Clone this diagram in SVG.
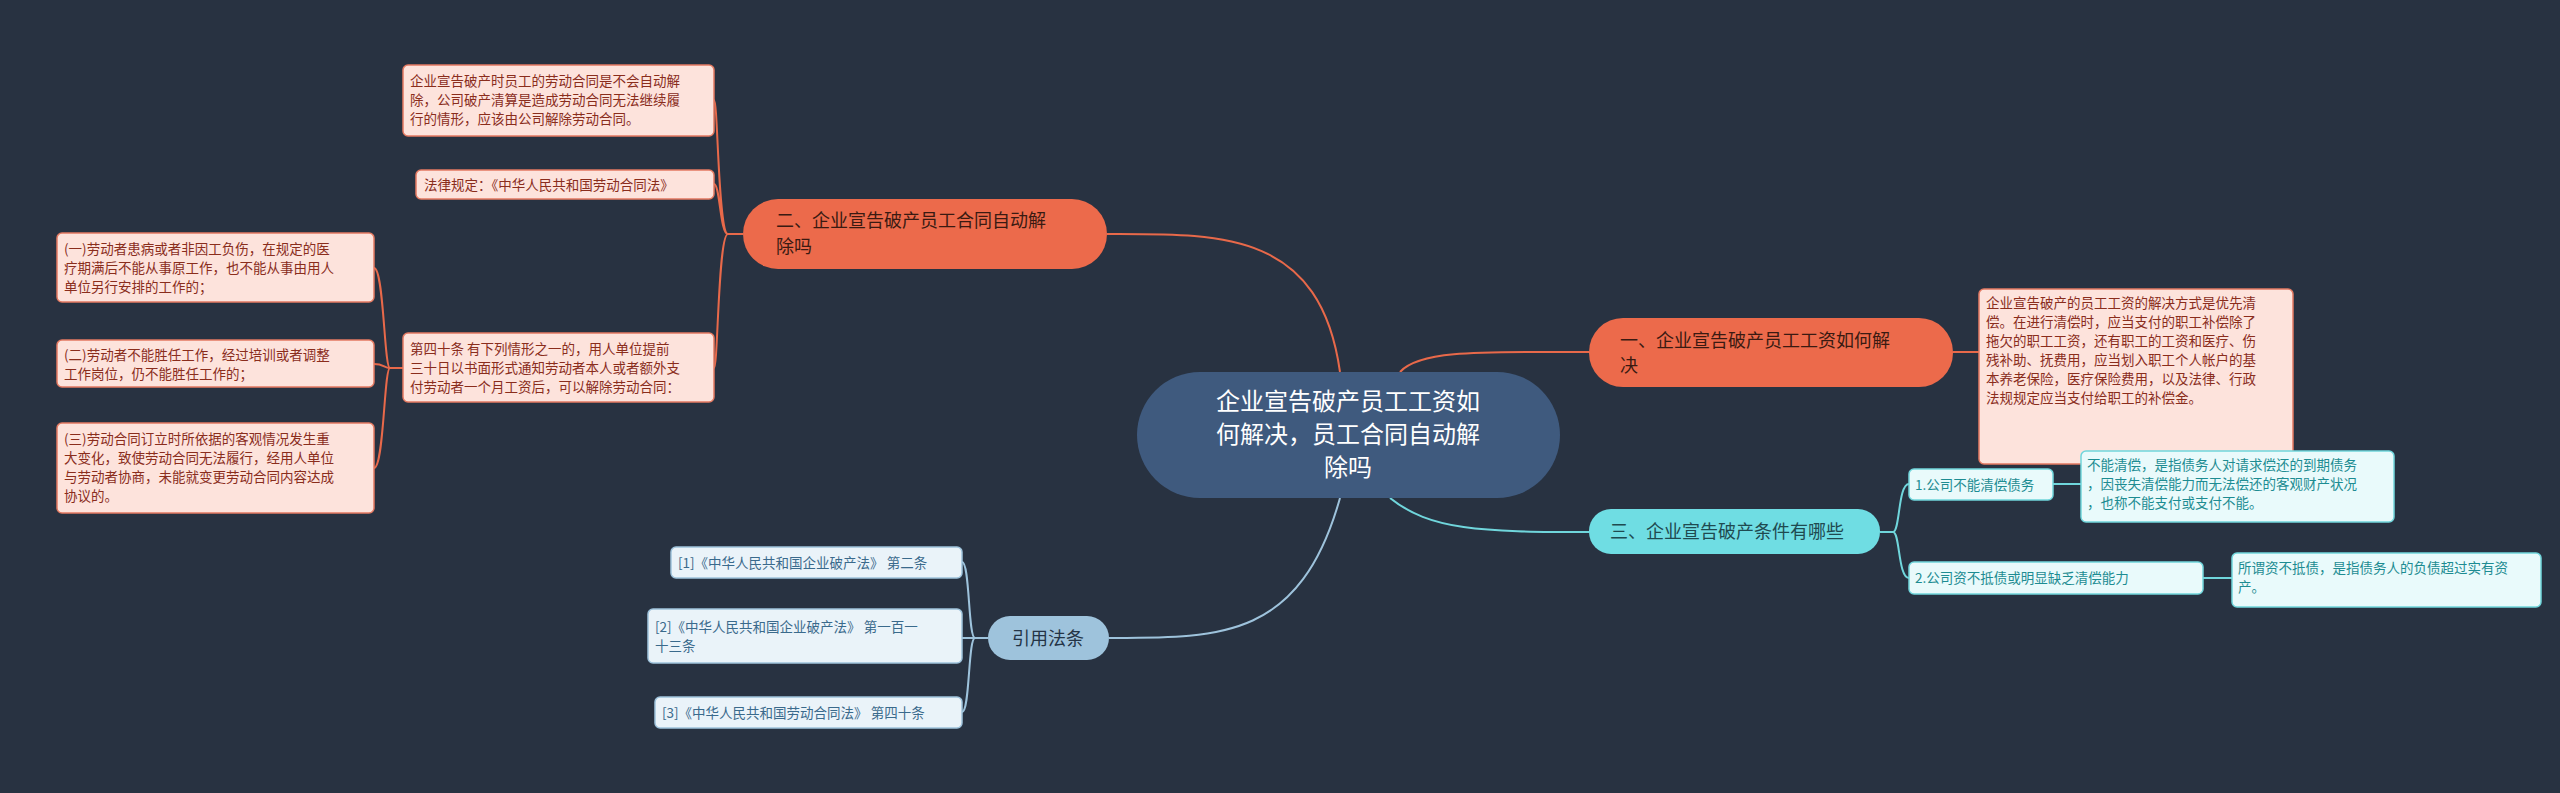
<svg xmlns="http://www.w3.org/2000/svg" width="2560" height="793" viewBox="0 0 2560 793">
<style>
text{font-family:"Noto Sans CJK SC","Liberation Sans",sans-serif}
.lr{fill:#fde3dc;stroke:#e47a62;stroke-width:1.5}
.lt{fill:#8a2d1c;font-size:13.5px}
.lc{fill:#e9fafb;stroke:#70d6dc;stroke-width:1.5}
.ct{fill:#1d8c92;font-size:13.5px}
.lb{fill:#eaf3f9;stroke:#9ec3dc;stroke-width:1.5}
.bt{fill:#3a6a8c;font-size:13.5px}
.co{fill:none;stroke:#e8694a;stroke-width:2}
.cc{fill:none;stroke:#70d6dc;stroke-width:2}
.cb{fill:none;stroke:#9ec3dc;stroke-width:2}
</style>
<rect width="2560" height="793" fill="#283241"/>
<g id="connectors">
<path class="co" d="M1107,234 C1220,234 1320,230 1340,372"/>
<path class="co" d="M1400,372 C1420,350 1480,352 1589,352"/>
<path class="cc" d="M1390,498 C1430,530 1480,532 1589,532"/>
<path class="cb" d="M1340,498 C1300,640 1220,638 1109,638"/>
<path class="co" d="M743,234 H728 M728,234 C718,234 718,100 714,100 M728,234 C720,234 720,184 714,184 M728,234 C718,234 718,368 714,368"/>
<path class="co" d="M403,368 H390 M390,368 C384,368 384,268 374,268 M390,368 C384,368 384,364 374,364 M390,368 C384,368 384,468 374,468"/>
<path class="cc" d="M1880,532 H1893 M1893,532 C1900,532 1898,484 1909,484 M1893,532 C1900,532 1898,578 1909,578 M2053,484 H2081 M2203,578 H2232"/>
<path class="co" d="M1953,352 H1979"/>
<path class="cb" d="M988,638 H975 M975,638 C968,638 970,562 962,562 M975,638 H962 M975,638 C968,638 970,712 962,712"/>
</g>
<g id="center"><rect x="1137" y="372" width="423" height="126" rx="63" fill="#3f5a7e"/>
<text x="1348" y="410" font-size="24" fill="#fff" text-anchor="middle">企业宣告破产员工工资如</text>
<text x="1348" y="443" font-size="24" fill="#fff" text-anchor="middle">何解决，员工合同自动解</text>
<text x="1348" y="476" font-size="24" fill="#fff" text-anchor="middle">除吗</text></g>
<g id="n1"><rect x="1589" y="318" width="364" height="69" rx="34" fill="#ec6a4b"/>
<text x="1620" y="347" font-size="18" fill="#3a1a12">一、企业宣告破产员工工资如何解</text>
<text x="1620" y="372" font-size="18" fill="#3a1a12">决</text></g>
<g id="n1a"><rect class="lr" x="1979" y="289" width="314" height="175" rx="5"/>
<text class="lt" x="1986" y="308">企业宣告破产的员工工资的解决方式是优先清</text>
<text class="lt" x="1986" y="327">偿。在进行清偿时，应当支付的职工补偿除了</text>
<text class="lt" x="1986" y="346">拖欠的职工工资，还有职工的工资和医疗、伤</text>
<text class="lt" x="1986" y="365">残补助、抚费用，应当划入职工个人帐户的基</text>
<text class="lt" x="1986" y="384">本养老保险，医疗保险费用，以及法律、行政</text>
<text class="lt" x="1986" y="403">法规规定应当支付给职工的补偿金。</text></g>
<g id="n3"><rect x="1589" y="509" width="291" height="45" rx="22" fill="#6fdde3"/>
<text x="1610" y="538" font-size="18" fill="#1f4a50">三、企业宣告破产条件有哪些</text></g>
<g id="n3a"><rect class="lc" x="1909" y="469" width="144" height="31" rx="5"/><text class="ct" x="1915" y="490">1.公司不能清偿债务</text></g>
<g id="n3a1"><rect class="lc" x="2081" y="451" width="313" height="71" rx="5"/>
<text class="ct" x="2087" y="470">不能清偿，是指债务人对请求偿还的到期债务</text>
<text class="ct" x="2087" y="489">，因丧失清偿能力而无法偿还的客观财产状况</text>
<text class="ct" x="2087" y="508">，也称不能支付或支付不能。</text></g>
<g id="n3b"><rect class="lc" x="1909" y="562" width="294" height="32" rx="5"/><text class="ct" x="1915" y="583">2.公司资不抵债或明显缺乏清偿能力</text></g>
<g id="n3b1"><rect class="lc" x="2232" y="553" width="309" height="54" rx="5"/>
<text class="ct" x="2238" y="573">所谓资不抵债，是指债务人的负债超过实有资</text>
<text class="ct" x="2238" y="592">产。</text></g>
<g id="n2"><rect x="743" y="199" width="364" height="70" rx="35" fill="#ec6a4b"/>
<text x="776" y="227" font-size="18" fill="#3a1a12">二、企业宣告破产员工合同自动解</text>
<text x="776" y="253" font-size="18" fill="#3a1a12">除吗</text></g>
<g id="n2a"><rect class="lr" x="403" y="65" width="311" height="71" rx="5"/>
<text class="lt" x="410" y="86">企业宣告破产时员工的劳动合同是不会自动解</text>
<text class="lt" x="410" y="105">除，公司破产清算是造成劳动合同无法继续履</text>
<text class="lt" x="410" y="124">行的情形，应该由公司解除劳动合同。</text></g>
<g id="n2b"><rect class="lr" x="416" y="170" width="298" height="29" rx="5"/><text class="lt" x="424" y="190">法律规定：《中华人民共和国劳动合同法》</text></g>
<g id="n2c"><rect class="lr" x="403" y="333" width="311" height="69" rx="5"/>
<text class="lt" x="410" y="354">第四十条 有下列情形之一的，用人单位提前</text>
<text class="lt" x="410" y="373">三十日以书面形式通知劳动者本人或者额外支</text>
<text class="lt" x="410" y="392">付劳动者一个月工资后，可以解除劳动合同：</text></g>
<g id="n2c1"><rect class="lr" x="57" y="233" width="317" height="69" rx="5"/>
<text class="lt" x="64" y="254">(一)劳动者患病或者非因工负伤，在规定的医</text>
<text class="lt" x="64" y="273">疗期满后不能从事原工作，也不能从事由用人</text>
<text class="lt" x="64" y="292">单位另行安排的工作的；</text></g>
<g id="n2c2"><rect class="lr" x="57" y="340" width="317" height="47" rx="5"/>
<text class="lt" x="64" y="360">(二)劳动者不能胜任工作，经过培训或者调整</text>
<text class="lt" x="64" y="379">工作岗位，仍不能胜任工作的；</text></g>
<g id="n2c3"><rect class="lr" x="57" y="423" width="317" height="90" rx="5"/>
<text class="lt" x="64" y="444">(三)劳动合同订立时所依据的客观情况发生重</text>
<text class="lt" x="64" y="463">大变化，致使劳动合同无法履行，经用人单位</text>
<text class="lt" x="64" y="482">与劳动者协商，未能就变更劳动合同内容达成</text>
<text class="lt" x="64" y="501">协议的。</text></g>
<g id="n4"><rect x="988" y="616" width="121" height="44" rx="22" fill="#9ec3dc"/>
<text x="1048" y="645" font-size="18" fill="#243446" text-anchor="middle">引用法条</text></g>
<g id="r1"><rect class="lb" x="671" y="547" width="291" height="31" rx="5"/><text class="bt" x="678" y="568">[1]《中华人民共和国企业破产法》 第二条</text></g>
<g id="r2"><rect class="lb" x="648" y="609" width="314" height="54" rx="5"/>
<text class="bt" x="655" y="632">[2]《中华人民共和国企业破产法》 第一百一</text>
<text class="bt" x="655" y="651">十三条</text></g>
<g id="r3"><rect class="lb" x="655" y="697" width="307" height="31" rx="5"/><text class="bt" x="662" y="718">[3]《中华人民共和国劳动合同法》 第四十条</text></g>
</svg>
